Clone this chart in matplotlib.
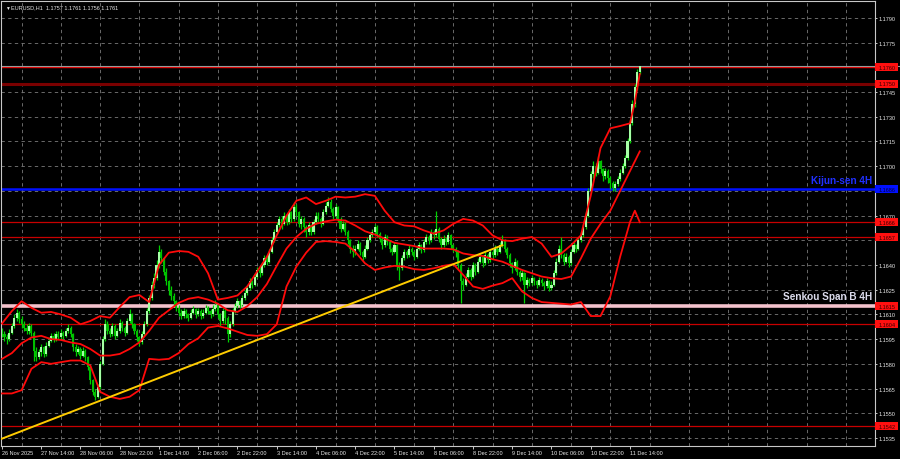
import matplotlib
matplotlib.use('Agg')
import matplotlib.pyplot as plt
import matplotlib.transforms as mtransforms
from matplotlib.patches import Rectangle
import numpy as np

plt.rcParams['font.family'] = ['Liberation Sans', 'DejaVu Sans']

# prices are stored in pips above BASE
BASE = 1.15
PIP = 0.0001

# EURUSD H1 candles, 26 Nov 22:00 .. 11 Dec 18:00 (open = previous close)
first_open = 100
closes = [
    98, 96, 95, 99, 103, 108, 111, 107, 104, 102, 100,
    103, 99, 88, 84, 87, 90, 86, 91, 94, 97,
    95, 98, 96, 99, 97, 100, 102, 98, 90, 87,
    89, 85, 88, 84, 78, 70, 63, 60, 66, 80,
    95, 104, 100, 98, 103, 97, 100, 105, 102, 99,
    106, 110, 104, 100, 96, 93, 98, 104, 112, 120,
    128, 132, 140, 148, 144, 136, 130, 125, 121, 118,
    114, 111, 109, 112, 110, 108, 111, 113, 110, 112,
    109, 111, 114, 112, 110, 113, 116, 110, 106, 112,
    108, 98, 104, 112, 115, 118, 116, 120, 123, 126,
    130, 128, 133, 137, 135, 140, 144, 142, 148, 155,
    160, 164, 168, 165, 170, 166, 172, 168, 175, 172,
    165, 168, 163, 160, 164, 160, 166, 170, 168, 165,
    172, 176, 178, 174, 170, 175, 168, 162, 165, 160,
    155, 150, 148, 150, 153, 148, 145, 150, 155, 158,
    160, 163, 159, 156, 152, 157, 154, 150, 148, 152,
    140, 138, 144, 148, 146, 150, 148, 145, 150, 152,
    149, 154, 157, 155, 160, 158, 162, 156, 152, 156,
    154, 158, 152, 150, 148, 140, 130, 128, 133, 137,
    133, 140, 136, 142, 145, 141, 146, 143, 148, 146,
    150, 148, 152, 155, 150, 146, 141, 138, 142, 136,
    133, 135, 128, 131, 129, 132, 130, 128, 131, 129,
    127, 130, 126, 128, 135, 142, 150, 146, 142, 145,
    141, 148, 152, 150, 155, 158, 163, 170, 185, 195,
    200, 196, 203, 198, 194, 197, 193, 190, 187, 189,
    192, 196, 200, 205, 215, 226, 238, 248, 257, 261,
]
highs = [
    102, 100, 98, 101, 105, 110, 113, 112, 109, 106, 104,
    105, 104, 100, 90, 89, 92, 91, 93, 96, 99,
    99, 100, 100, 101, 100, 102, 104, 103, 99, 92,
    91, 90, 90, 89, 85, 79, 71, 65, 68, 82,
    97, 107, 106, 102, 105, 104, 102, 107, 106, 103,
    108, 113, 111, 105, 101, 97, 100, 106, 114, 122,
    130, 135, 143, 152, 150, 145, 138, 131, 127, 123,
    119, 116, 113, 114, 113, 111, 113, 115, 114, 114,
    113, 113, 116, 115, 113, 116, 119, 117, 111, 114,
    113, 109, 106, 114, 117, 120, 119, 122, 125, 128,
    132, 131, 135, 139, 139, 142, 146, 146, 150, 157,
    162, 166, 170, 170, 172, 171, 174, 173, 178, 177,
    173, 170, 169, 164, 166, 165, 168, 172, 172, 169,
    174, 178, 181, 180, 175, 177, 176, 169, 167, 166,
    161, 156, 152, 152, 155, 154, 149, 152, 157, 160,
    162, 165, 164, 160, 157, 159, 158, 155, 151, 154,
    153, 142, 146, 150, 149, 152, 151, 149, 152, 154,
    153, 156, 159, 158, 162, 161, 173, 163, 157, 158,
    157, 160, 159, 153, 151, 149, 141, 132, 135, 139,
    138, 142, 141, 144, 147, 146, 148, 147, 150, 149,
    152, 151, 154, 158, 156, 151, 147, 142, 144, 143,
    137, 137, 136, 133, 132, 134, 133, 131, 133, 132,
    130, 132, 131, 130, 137, 144, 152, 157, 147, 147,
    146, 150, 154, 153, 157, 160, 165, 172, 187, 197,
    203, 202, 206, 204, 199, 199, 198, 194, 191, 191,
    194, 198, 202, 207, 217, 228, 240, 250, 259, 261,
]
lows = [
    96, 94, 92, 94, 98, 102, 106, 105, 102, 100, 98,
    98, 97, 82, 82, 83, 85, 84, 85, 90, 93,
    93, 94, 95, 95, 95, 96, 99, 96, 88, 85,
    86, 83, 84, 82, 76, 68, 61, 58, 59, 65,
    79, 94, 98, 96, 97, 95, 96, 99, 100, 97,
    98, 105, 102, 98, 94, 91, 92, 97, 103, 111,
    119, 126, 131, 138, 141, 134, 128, 122, 119, 116,
    112, 109, 107, 108, 108, 106, 107, 110, 108, 109,
    107, 108, 110, 110, 108, 109, 112, 108, 103, 105,
    104, 93, 96, 103, 111, 114, 114, 115, 119, 122,
    125, 126, 127, 132, 133, 134, 139, 140, 141, 147,
    154, 159, 163, 162, 164, 164, 165, 166, 167, 170,
    163, 162, 160, 157, 158, 158, 159, 165, 166, 163,
    164, 171, 175, 172, 168, 169, 166, 160, 161, 158,
    153, 147, 145, 146, 149, 146, 143, 144, 149, 154,
    157, 159, 157, 154, 150, 151, 152, 148, 146, 147,
    137, 131, 137, 143, 144, 145, 146, 143, 144, 149,
    147, 148, 153, 153, 154, 156, 157, 154, 150, 151,
    152, 153, 150, 148, 145, 137, 117, 125, 127, 132,
    131, 132, 134, 135, 141, 139, 140, 141, 142, 144,
    145, 146, 147, 151, 148, 144, 139, 135, 137, 134,
    130, 131, 117, 126, 127, 128, 128, 126, 127, 127,
    125, 126, 124, 125, 127, 134, 141, 144, 140, 141,
    139, 140, 147, 148, 149, 154, 157, 162, 169, 184,
    193, 194, 195, 196, 191, 192, 190, 186, 185, 185,
    188, 191, 195, 199, 204, 214, 225, 236, 246, 256,
]

# Bollinger bands at every 4th bar
band_idx = list(range(0, 257, 4)) + [258, 260]
bb_upper = [104.5, 112, 118, 114, 111, 111.5, 110, 108, 104, 106,
            109, 108, 114.5, 120.5, 121.8, 117.5, 140, 147.5, 148.5, 148,
            145, 135, 119, 120, 121.5, 127, 136, 145, 158, 170,
            179, 181, 177, 179, 181.5, 181, 181.5, 183, 182, 173,
            166, 164, 163.5, 161, 159, 161, 165, 168, 167, 164,
            158, 155, 154.5, 156, 157, 153, 145, 147, 152, 158,
            182, 211, 223, 224.4, 226, 239, 256]
bb_mid = [83, 86.5, 92.5, 96, 97, 95, 94.5, 93, 92, 89,
          85, 85, 86, 89, 93, 100, 108, 112.5, 117, 119.5,
          120.5, 119, 116.5, 112.5, 111.5, 115, 120.5, 128.5, 139.5, 150,
          157, 162, 165, 166.5, 167.5, 167, 164, 160.5, 158.5, 156,
          153.5, 152.5, 151.5, 150, 150, 150, 149.5, 147, 146, 145.5,
          143.5, 142, 139.5, 137, 135, 133, 132, 131.5, 133, 144,
          156, 165, 173, 185, 197, 203, 209]
bb_lower = [62, 62, 64, 77, 81, 80, 81, 82, 82, 79,
            63, 60, 58.7, 60, 64, 83, 82.5, 83, 86.5, 92,
            95.5, 102, 103, 101.5, 99.5, 97.5, 97, 98, 104, 127,
            139, 147.5, 154, 154.5, 154, 153, 148, 141, 137, 138.5,
            139.5, 139, 137.5, 137, 138, 139.5, 140.5, 134, 127, 125.5,
            127.5, 129, 132, 124, 120, 117.5, 117, 116.5, 116, 117.5,
            109, 109, 121, 145, 166, 173, 166]

# support / resistance levels
level_prices = [1.1760, 1.1750, 1.1686, 1.1666, 1.1657, 1.1615, 1.1604, 1.1542]
level_colors = ['#e00000', '#7a0000', '#0010ff', '#c80000', '#c80000',
                '#f4c2cc', '#c80000', '#c80000']
level_widths = [1.0, 2.2, 1.8, 0.9, 0.9, 2.6, 0.9, 0.9]
label_colors = ['#ff1010', '#ff1010', '#0010ff', '#ff1010', '#ff1010',
                '#ff1010', '#ff1010', '#ff1010']

# trend line (bar index, price)
trend_x = [-1, 204]
trend_y = [1.1534, 1.1652]

price_ticks = [1.1535, 1.1550, 1.1565, 1.1580, 1.1595, 1.1610, 1.1625,
               1.1640, 1.1655, 1.1670, 1.1685, 1.1700, 1.1715, 1.1730,
               1.1745, 1.1760, 1.1775, 1.1790]
# scale labels that sit under a level box are not shown
hidden_ticks = [1.1655, 1.1685, 1.1760]
time_labels = ['26 Nov 2025', '27 Nov 14:00', '28 Nov 06:00', '28 Nov 22:00',
               '1 Dec 14:00', '2 Dec 06:00', '2 Dec 22:00', '3 Dec 14:00',
               '4 Dec 06:00', '4 Dec 22:00', '5 Dec 14:00', '8 Dec 06:00',
               '8 Dec 22:00', '9 Dec 14:00', '10 Dec 06:00', '10 Dec 22:00',
               '11 Dec 14:00']
bars_per_label = 16

# ---------------------------------------------------------------
c = BASE + PIP * np.array(closes, dtype=float)
o = BASE + PIP * np.array([first_open] + closes[:-1], dtype=float)
h = BASE + PIP * np.array(highs, dtype=float)
l = BASE + PIP * np.array(lows, dtype=float)
idx = np.arange(len(c))
up = c >= o

fig = plt.figure(figsize=(9, 4.6), dpi=100, facecolor='black')
ax = fig.add_axes([1 / 900, 13 / 460, 874 / 900, 445 / 460])
ax.set_facecolor('black')
ax.set_xlim(-0.41, 355.9)
ax.set_ylim(1.15301, 1.18003)

# grid
ax.set_yticks(price_ticks)
ax.set_yticklabels(['' if v in hidden_ticks else f'{v:.4f}'
                    for v in price_ticks])
ax.set_xticks(np.arange(len(time_labels)) * bars_per_label)
ax.set_xticklabels(time_labels, ha='left')
ax.set_xticks(np.arange(8, 356, bars_per_label), minor=True)
grid_kw = dict(color='#7a7a7a', linewidth=0.6, linestyle=(0, (4, 4)))
ax.grid(axis='y', which='major', **grid_kw)
ax.grid(axis='x', which='minor', **grid_kw)
ax.grid(axis='x', which='major', visible=False)
ax.set_axisbelow(True)

ax.yaxis.tick_right()
ax.tick_params(axis='y', length=1.5, width=0.6, pad=0.8, labelsize=4.0,
               colors='#e8e8e8')
ax.tick_params(axis='x', which='major', length=2, width=0.6, pad=1.0,
               labelsize=4.0, colors='#e8e8e8')
ax.tick_params(axis='x', which='minor', length=0)
for s in ax.spines.values():
    s.set_color('#c8c8c8')
    s.set_linewidth(0.8)

# levels
blend = mtransforms.blended_transform_factory(ax.transAxes, ax.transData)
for price, col, lw in zip(level_prices, level_colors, level_widths):
    ax.axhline(price, color=col, lw=lw, zorder=1.6)
# current price line
ax.plot([0, 1.027], [c[-1], c[-1]], transform=blend, color='#9a9a9a',
        lw=0.8, clip_on=False, zorder=1.7)

# candles
ax.vlines(idx, l, h, color='#00d000', lw=0.9, zorder=2)
ax.bar(idx[up], (c - o)[up], bottom=o[up], width=0.85, color='#a6ffa6',
       linewidth=0, zorder=2.1)
ax.bar(idx[~up], (c - o)[~up], bottom=o[~up], width=0.85, color='#00c000',
       linewidth=0, zorder=2.1)

# bollinger bands
for band in (bb_upper, bb_mid, bb_lower):
    ax.plot(band_idx, BASE + PIP * np.array(band), color='#ff0a0a', lw=1.3,
            solid_joinstyle='round', zorder=3)

# trend line
ax.plot(trend_x, trend_y, color='#ffcc00', lw=1.4, zorder=3.1)

# price boxes on the right scale
box_h = 0.00049
for price, col in zip(level_prices, label_colors):
    ax.add_patch(Rectangle((1.0005, price - box_h / 2), 23 / 874, box_h,
                           transform=blend, facecolor=col, edgecolor='none',
                           clip_on=False, zorder=6))
    ax.text(1.0 + 4 / 874, price, f'{price:.4f}', transform=blend,
            fontsize=4.0, color='#3a0000' if col != '#0010ff' else '#00003a',
            va='center', ha='left', zorder=7, clip_on=False)

# level captions
ax.text(0.997, 1.16897, 'Kijun-sen 4H', transform=blend, ha='right',
        va='baseline', fontsize=7.2, fontweight='bold', color='#2030ff',
        zorder=8)
ax.text(0.997, 1.16194, 'Senkou Span B 4H', transform=blend, ha='right',
        va='baseline', fontsize=7.2, fontweight='bold', color='#dcdcec',
        zorder=8)

# header
fig.text(5 / 900, 1 - 8 / 460, '\u25bc', fontsize=3.5, color='#e8e8e8',
         va='center', ha='left')
fig.text(11 / 900, 1 - 7.5 / 460,
         'EURUSD,H1  1.1757 1.1761 1.1756 1.1761',
         fontsize=4.0, color='#e8e8e8', va='center', ha='left')

fig.savefig('out.png', dpi=100, facecolor='black')
